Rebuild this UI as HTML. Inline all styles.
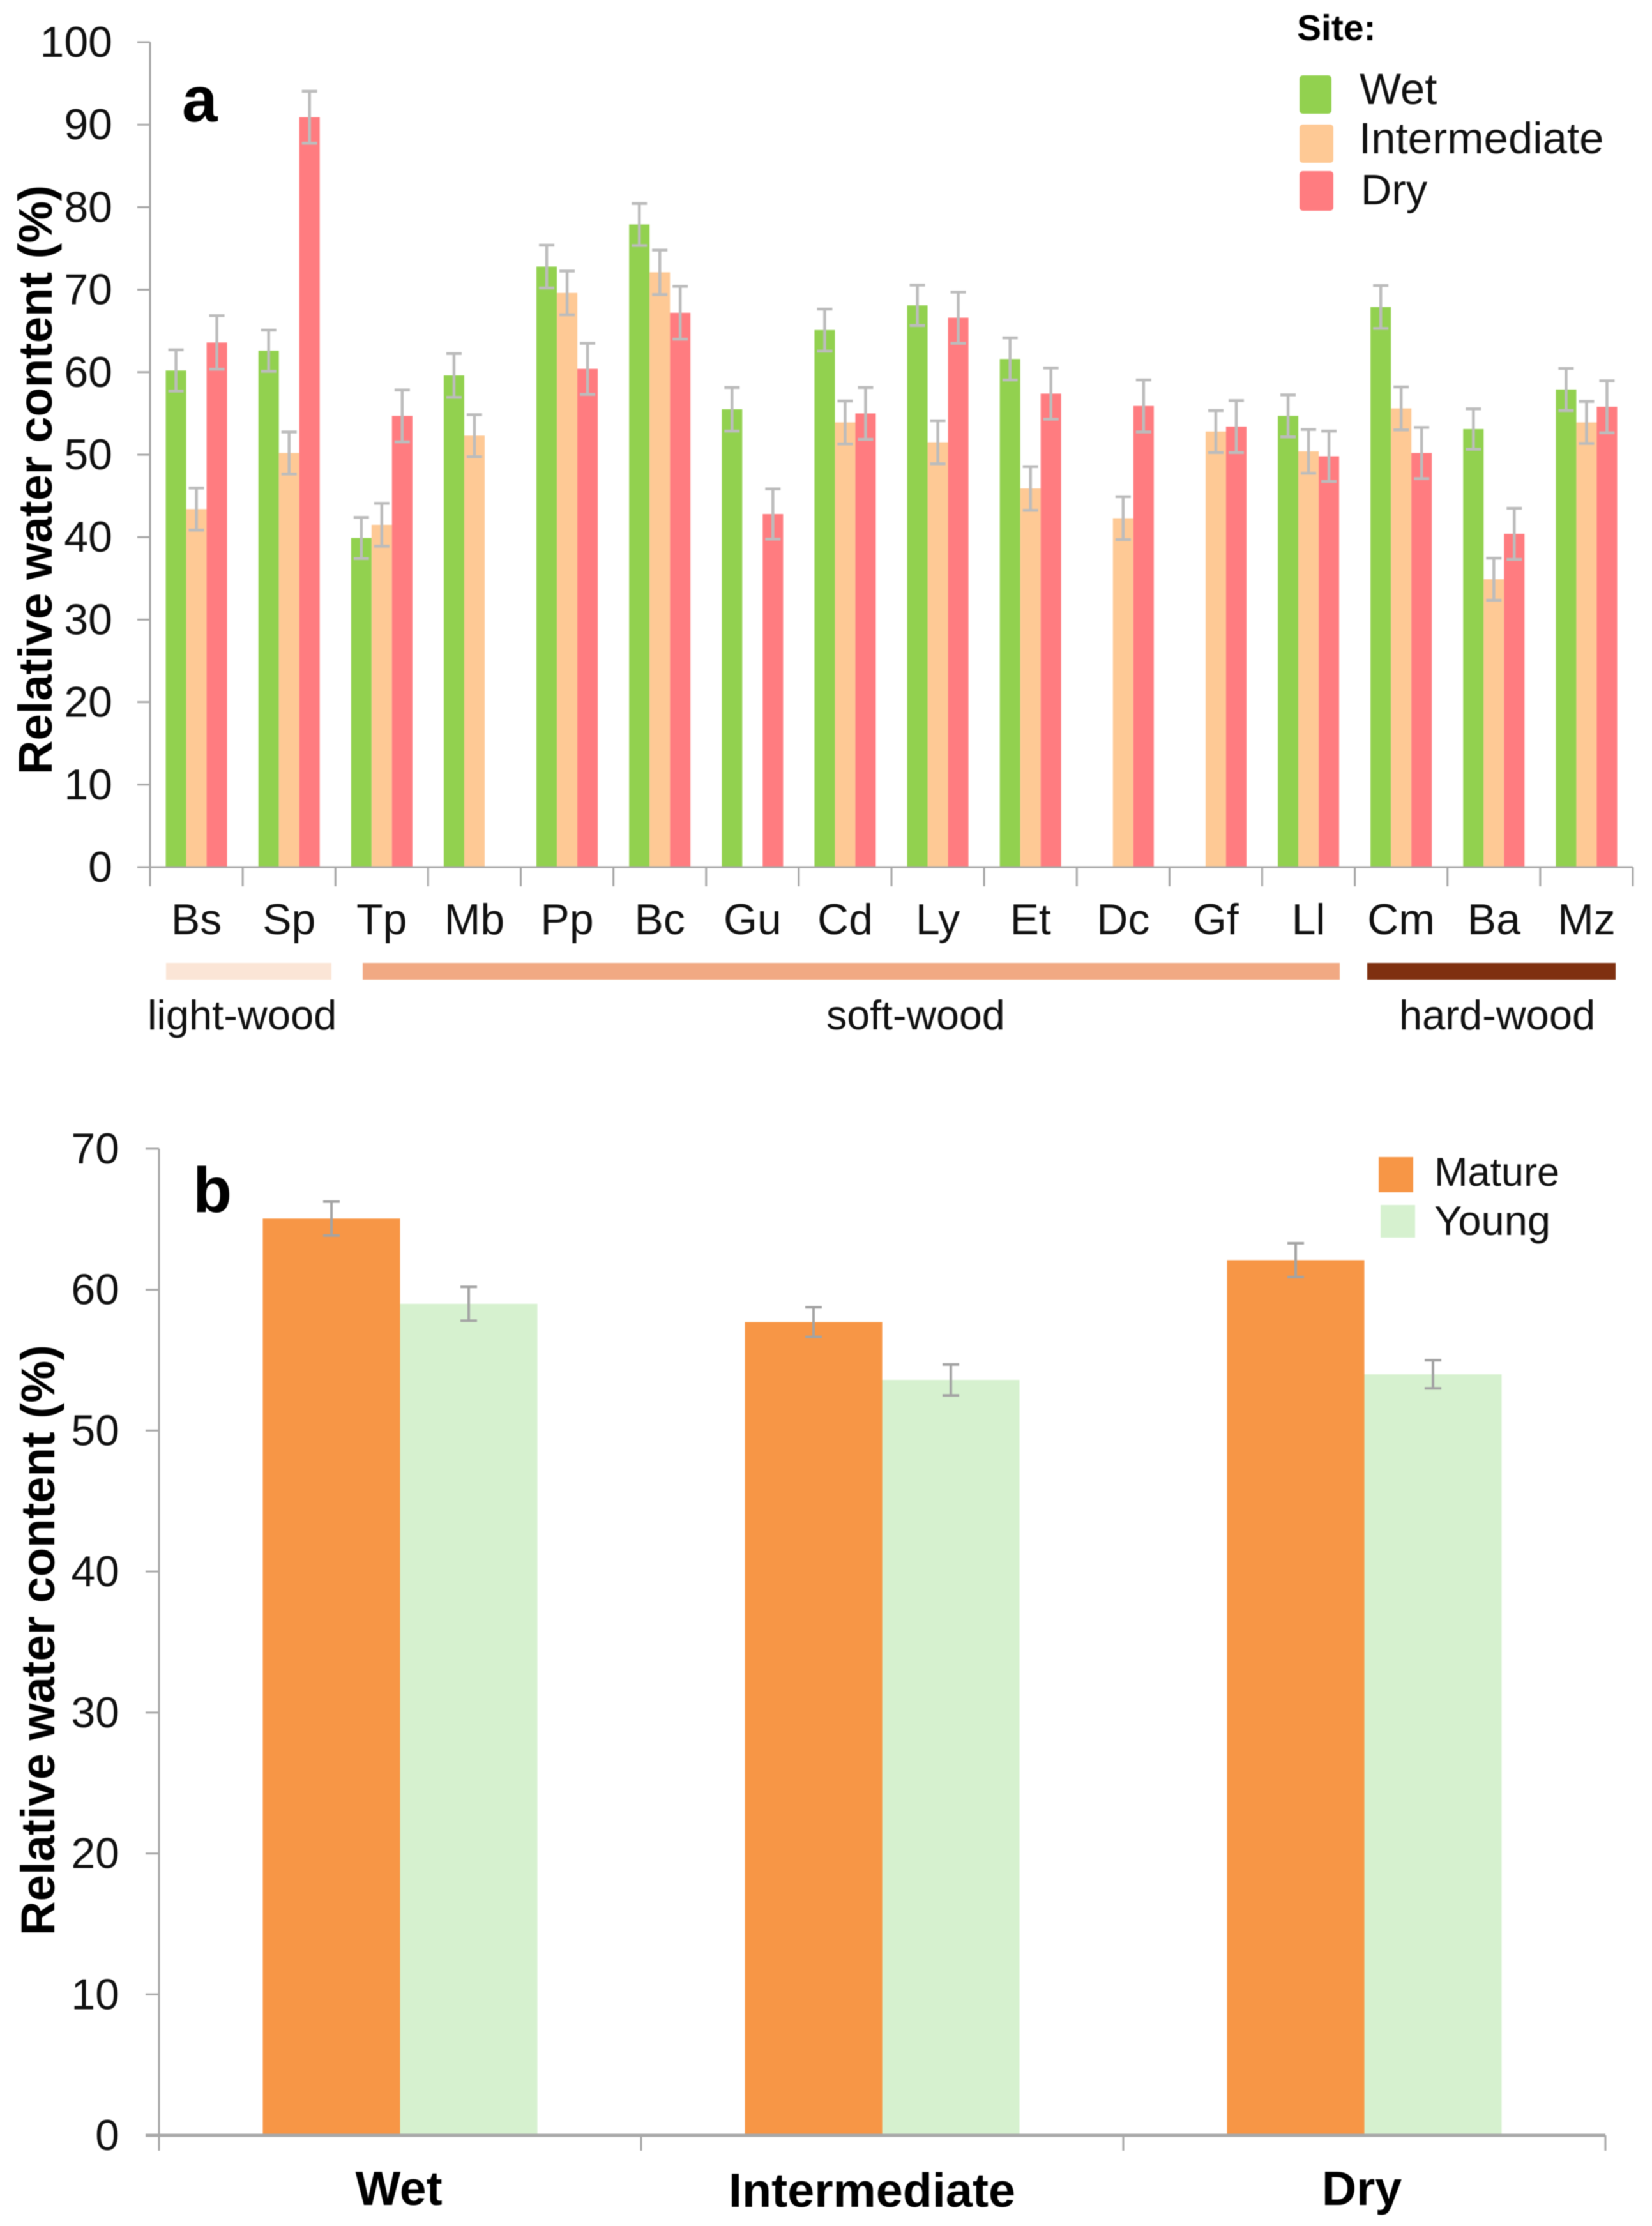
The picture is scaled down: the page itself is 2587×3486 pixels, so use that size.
<!DOCTYPE html>
<html lang="en">
<head>
<meta charset="utf-8">
<title>Relative water content by species and site</title>
<style>
html,body{margin:0;padding:0;background:#fff;}
body{width:2587px;height:3486px;overflow:hidden;}
svg{display:block;filter:blur(0.9px);}
text{font-family:"Liberation Sans",Arial,sans-serif;fill:#111;}
.b{font-weight:700;fill:#000;}
</style>
</head>
<body>
<svg id="chart" xmlns="http://www.w3.org/2000/svg" width="2587" height="3486" viewBox="0 0 2587 3486">
  <rect x="0" y="0" width="2587" height="3486" fill="#fff"/>

  <g id="panelA">
    <text class="b" x="285" y="190" font-size="100">a</text>
    <text class="b" transform="translate(81,1213) rotate(-90)" font-size="74" textLength="923" lengthAdjust="spacingAndGlyphs">Relative water content (%)</text>

    <g>
      <text class="b" x="2031" y="63" font-size="57">Site:</text>
      <rect x="2035" y="118" width="50" height="60" rx="5" fill="#92d14f"/>
      <text x="2129" y="163" font-size="69">Wet</text>
      <rect x="2035" y="195" width="53" height="60" rx="5" fill="#fec995"/>
      <text x="2128" y="240" font-size="69">Intermediate</text>
      <rect x="2035" y="268" width="53" height="62" rx="5" fill="#ff7c80"/>
      <text x="2131" y="320" font-size="67">Dry</text>
    </g>

    <g>
      <rect x="260" y="1508" width="259" height="26" fill="#fbe5d6"/>
      <rect x="568" y="1508" width="1530" height="26" fill="#f1a983"/>
      <rect x="2141" y="1508" width="389" height="26" fill="#7f3010"/>
      <text x="231" y="1612" font-size="65">light-wood</text>
      <text x="1294" y="1612" font-size="64.5">soft-wood</text>
      <text x="2191" y="1612" font-size="65">hard-wood</text>
    </g>
  </g>

  <g id="panelB">
    <text class="b" x="302" y="1898" font-size="100">b</text>
    <text class="b" transform="translate(85,3031) rotate(-90)" font-size="74" textLength="925" lengthAdjust="spacingAndGlyphs">Relative water content (%)</text>

    <g>
      <rect x="2159" y="1812" width="54" height="55" fill="#f79646"/>
      <text x="2246" y="1857" font-size="63">Mature</text>
      <rect x="2162" y="1887" width="54" height="51" fill="#d6f1cf"/>
      <text x="2246" y="1934" font-size="65">Young</text>
    </g>
  </g>
</svg>

<script>
// ---------- Panel A data ----------
const speciesLabels = ['Bs','Sp','Tp','Mb','Pp','Bc','Gu','Cd','Ly','Et','Dc','Gf','Ll','Cm','Ba','Mz'];
const wetValues = [60.2,62.6,39.9,59.6,72.8,77.9,55.5,65.1,68.1,61.6,null,null,54.7,67.9,53.1,57.9];
const intermediateValues = [43.4,50.2,41.5,52.3,69.6,72.1,null,53.9,51.5,45.9,42.3,52.8,50.4,55.6,34.9,53.9];
const dryValues = [63.6,90.9,54.7,null,60.4,67.2,42.8,55.0,66.6,57.4,55.9,53.4,49.8,50.2,40.4,55.8];
const wetErrors = [2.5,2.5,2.5,2.65,2.6,2.55,2.65,2.55,2.45,2.55,null,null,2.55,2.6,2.45,2.55];
const intermediateErrors = [2.55,2.55,2.6,2.55,2.65,2.7,null,2.6,2.6,2.65,2.6,2.55,2.65,2.6,2.55,2.55];
const dryErrors = [3.25,3.15,3.15,null,3.1,3.2,3.05,3.15,3.1,3.1,3.15,3.15,3.05,3.1,3.1,3.15];
const yTicksA = [0,10,20,30,40,50,60,70,80,90,100];

// ---------- Panel B data ----------
const siteLabels = ['Wet','Intermediate','Dry'];
const matureValues = [65.05,57.7,62.1];
const youngValues = [59.0,53.6,54.0];
const matureErrors = [1.2,1.05,1.2];
const youngErrors = [1.2,1.1,1.0];
const yTicksB = [0,10,20,30,40,50,60,70];

const SVGNS = 'http://www.w3.org/2000/svg';
function make(tag, attrs, parent, txt) {
  const n = document.createElementNS(SVGNS, tag);
  for (const k in attrs) n.setAttribute(k, attrs[k]);
  if (txt !== undefined) n.textContent = txt;
  parent.appendChild(n);
  return n;
}

const panelA = document.getElementById('panelA');
const panelB = document.getElementById('panelB');

// ---------- Panel A axes ----------
const A_LEFT = 235, A_RIGHT = 2557, A_ZERO = 1358, A_TOP = 66;
function yA(v) { return A_ZERO - (A_ZERO - A_TOP) * v / 100; }
function xA(i) { return A_LEFT + (A_RIGHT - A_LEFT) * i / speciesLabels.length; }
const A_BAR_W = 32;
function barXA(i, s) { return xA(i) + ((A_RIGHT - A_LEFT) / speciesLabels.length - 3 * A_BAR_W) / 2 + s * A_BAR_W; }

const seriesColorsA = ['#92d14f', '#fec995', '#ff7c80'];
const seriesNamesA = ['wet', 'intermediate', 'dry'];
const seriesValuesA = [wetValues, intermediateValues, dryValues];
const seriesErrorsA = [wetErrors, intermediateErrors, dryErrors];

seriesValuesA.forEach(function (vals, s) {
  vals.forEach(function (v, i) {
    if (v === null) return;
    const bar = make('rect', {x: barXA(i, s), y: yA(v), width: A_BAR_W, height: A_ZERO - yA(v), fill: seriesColorsA[s]}, panelA);
    
    
  });
});

seriesValuesA.forEach(function (vals, s) {
  vals.forEach(function (v, i) {
    if (v === null) return;
    const cx = barXA(i, s) + A_BAR_W / 2;
    const e = seriesErrorsA[s][i];
    const g = make('g', {stroke: '#bcbcbc', 'stroke-width': 4.5, fill: 'none'}, panelA);
    
    
    make('line', {x1: cx, x2: cx, y1: yA(v + e), y2: yA(v - e)}, g);
    make('line', {x1: cx - 12, x2: cx + 12, y1: yA(v + e), y2: yA(v + e)}, g);
    make('line', {x1: cx - 12, x2: cx + 12, y1: yA(v - e), y2: yA(v - e)}, g);
  });
});

const axisA = make('g', {stroke: '#a6a6a6', 'stroke-width': 3, fill: 'none'}, panelA);


make('line', {x1: A_LEFT, x2: A_LEFT, y1: A_TOP, y2: A_ZERO + 30}, axisA);
make('line', {x1: A_LEFT - 20, x2: A_RIGHT, y1: A_ZERO, y2: A_ZERO}, axisA);
for (let i = 1; i <= speciesLabels.length; i++) {
  make('line', {x1: xA(i), x2: xA(i), y1: A_ZERO, y2: A_ZERO + 30}, axisA);
}

yTicksA.forEach(function (t) {
  make('line', {x1: A_LEFT - 20, x2: A_LEFT, y1: yA(t), y2: yA(t)}, axisA);
  const lab = make('text', {x: 176, y: yA(t) + 23, 'font-size': 68, 'text-anchor': 'end'}, panelA, String(t));
  
  
});

speciesLabels.forEach(function (name, i) {
  const lab = make('text', {x: xA(i) + (A_RIGHT - A_LEFT) / speciesLabels.length / 2, y: 1463, 'font-size': 68, 'text-anchor': 'middle'}, panelA, name);
  
  
});

// ---------- Panel B axes ----------
const B_LEFT = 249, B_RIGHT = 2514, B_ZERO = 3344, B_TOP = 1799;
function yB(v) { return B_ZERO - (B_ZERO - B_TOP) * v / 70; }
function xB(i) { return B_LEFT + (B_RIGHT - B_LEFT) * i / siteLabels.length; }
const B_BAR_W = 215;
function barXB(i, s) { return xB(i) + ((B_RIGHT - B_LEFT) / siteLabels.length - 2 * B_BAR_W) / 2 + s * B_BAR_W; }

const seriesColorsB = ['#f79646', '#d6f1cf'];
const seriesNamesB = ['mature', 'young'];
const seriesValuesB = [matureValues, youngValues];
const seriesErrorsB = [matureErrors, youngErrors];

seriesValuesB.forEach(function (vals, s) {
  vals.forEach(function (v, i) {
    const bar = make('rect', {x: barXB(i, s), y: yB(v), width: B_BAR_W, height: B_ZERO - yB(v), fill: seriesColorsB[s]}, panelB);
    
    
  });
});

const axisB = make('g', {stroke: '#a8a8a8', 'stroke-width': 3, fill: 'none'}, panelB);


make('line', {x1: B_LEFT, x2: B_LEFT, y1: B_TOP, y2: B_ZERO + 24}, axisB);
make('line', {x1: B_LEFT - 21, x2: B_RIGHT, y1: B_ZERO, y2: B_ZERO, 'stroke-width': 5}, axisB);
for (let i = 1; i <= siteLabels.length; i++) {
  make('line', {x1: xB(i), x2: xB(i), y1: B_ZERO, y2: B_ZERO + 24}, axisB);
}

yTicksB.forEach(function (t) {
  make('line', {x1: B_LEFT - 21, x2: B_LEFT, y1: yB(t), y2: yB(t)}, axisB);
  const lab = make('text', {x: 187, y: yB(t) + 23, 'font-size': 68, 'text-anchor': 'end'}, panelB, String(t));
  
  
});

seriesValuesB.forEach(function (vals, s) {
  vals.forEach(function (v, i) {
    const cx = barXB(i, s) + B_BAR_W / 2;
    const e = seriesErrorsB[s][i];
    const g = make('g', {stroke: '#a3a3a3', 'stroke-width': 4, fill: 'none'}, panelB);
    
    
    make('line', {x1: cx, x2: cx, y1: yB(v + e), y2: yB(v - e)}, g);
    make('line', {x1: cx - 13, x2: cx + 13, y1: yB(v + e), y2: yB(v + e)}, g);
    make('line', {x1: cx - 13, x2: cx + 13, y1: yB(v - e), y2: yB(v - e)}, g);
  });
});

siteLabels.forEach(function (name, i) {
  const lab = make('text', {x: xB(i) + (B_RIGHT - B_LEFT) / siteLabels.length / 2 + (i === 1 ? -16 : i === 2 ? -4 : -2), y: i === 1 ? 3456 : 3453, 'font-size': i === 1 ? 75.5 : 75, 'text-anchor': 'middle', 'class': 'b'}, panelB, name);
  
  
});
</script>
</body>
</html>
